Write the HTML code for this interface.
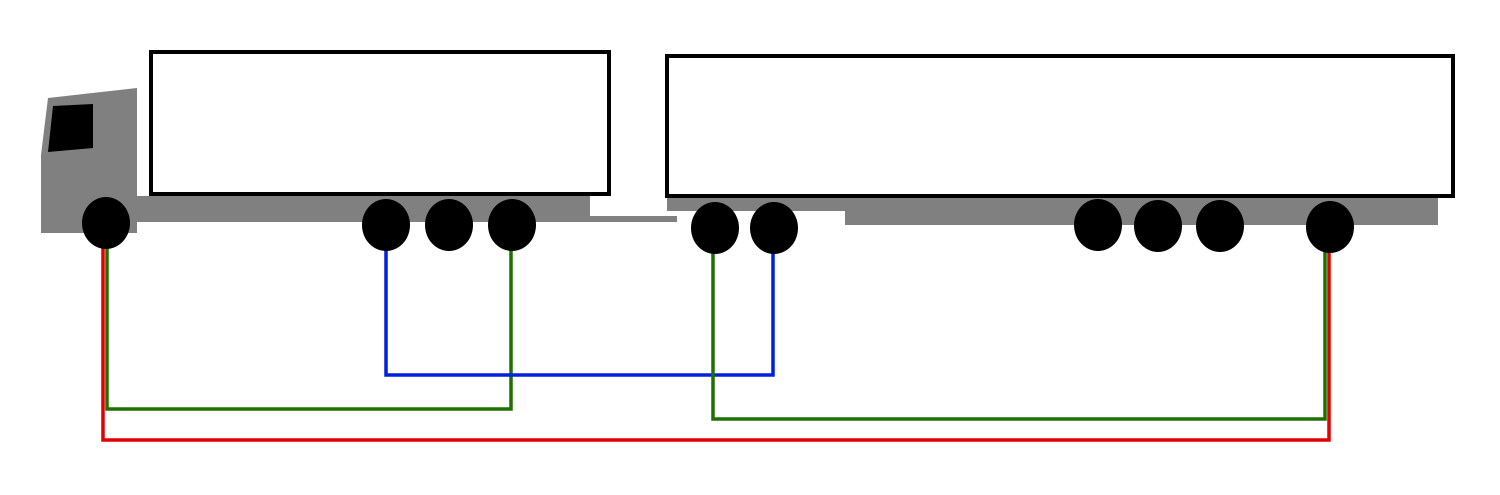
<!DOCTYPE html>
<html><head><meta charset="utf-8"><style>html,body{margin:0;padding:0;background:#fff}svg{display:block}</style></head>
<body>
<svg width="1500" height="495" viewBox="0 0 1500 495" xmlns="http://www.w3.org/2000/svg">
<polygon points="41,233 41,155 48,98 137,88 137,233" fill="#808080"/>
<rect x="41" y="196" width="549" height="26" fill="#808080"/>
<polygon points="53,106 93,104 93,148 48,152" fill="#000"/>
<rect x="585" y="216" width="92" height="6" fill="#808080"/>
<rect x="667" y="196" width="180" height="15" fill="#808080"/>
<rect x="845" y="196" width="593" height="29" fill="#808080"/>
<rect x="151" y="52" width="458" height="142" fill="#fff" stroke="#000" stroke-width="4"/>
<rect x="667" y="56" width="786" height="140" fill="#fff" stroke="#000" stroke-width="4"/>
<g fill="none" stroke-width="3.5">
<polyline points="103,248 103,440 1329,440 1329,248" stroke="#e00000"/>
<polyline points="107,248 107,409 511,409 511,248" stroke="#207000"/>
<polyline points="386,248 386,375 773,375 773,248" stroke="#0020e0"/>
<polyline points="713,248 713,419 1325,419 1325,248" stroke="#207000"/>
</g>
<g fill="#000">
<ellipse cx="106" cy="223" rx="24" ry="26"/>
<ellipse cx="386" cy="225" rx="24" ry="26"/>
<ellipse cx="449" cy="225" rx="24" ry="26"/>
<ellipse cx="512" cy="225" rx="24" ry="26"/>
<ellipse cx="715" cy="228" rx="24" ry="26"/>
<ellipse cx="774" cy="228" rx="24" ry="26"/>
<ellipse cx="1098" cy="225" rx="24" ry="26"/>
<ellipse cx="1158" cy="226" rx="24" ry="26"/>
<ellipse cx="1220" cy="226" rx="24" ry="26"/>
<ellipse cx="1330" cy="227" rx="24" ry="26"/>
</g>
</svg>
</body></html>
